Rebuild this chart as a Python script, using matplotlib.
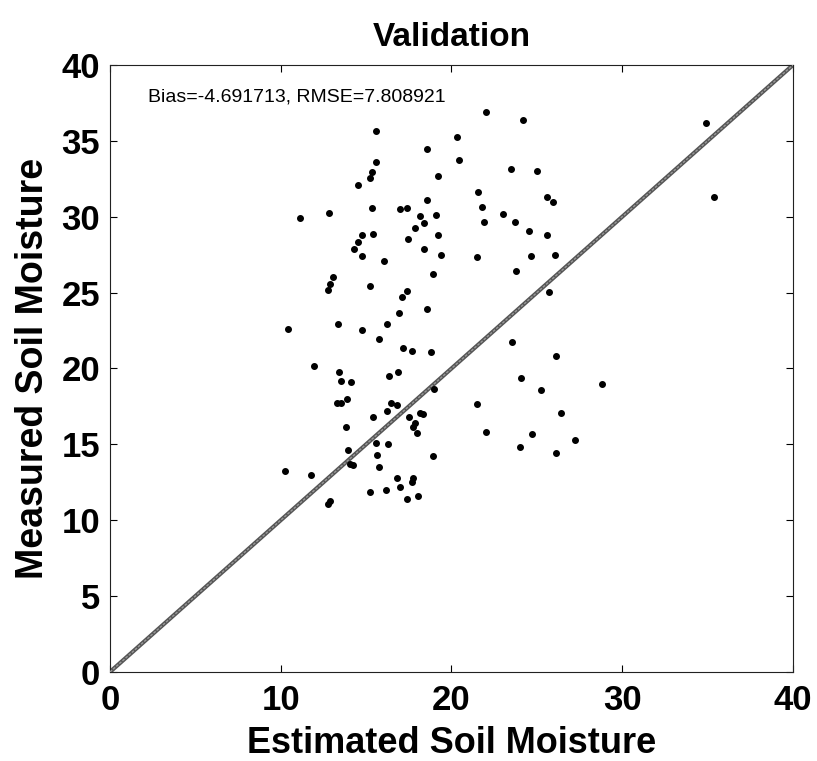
import matplotlib
matplotlib.use("Agg")
import matplotlib.pyplot as plt
import numpy as np

# estimated vs measured soil moisture, validation points
est = [15.56, 15.56, 15.34, 15.22, 14.52, 15.34, 17.0, 17.37, 11.14, 12.82,
       17.86, 17.43, 14.74, 15.38, 14.54, 14.27, 14.75, 16.04, 13.08, 12.88,
       12.75, 15.24, 17.39, 17.1, 16.9, 13.33, 16.2, 10.44, 14.75, 15.73,
       17.19, 17.7, 11.96, 13.39, 13.52, 14.09, 16.32, 16.88, 13.27, 13.52,
       13.86, 16.43, 16.79, 16.24, 15.42, 17.52, 17.88, 17.76, 17.99, 13.8,
       15.56, 16.28, 13.92, 14.05, 14.21, 15.61, 15.73, 10.23, 11.79, 16.8,
       17.72, 17.68, 16.98, 15.24, 16.16, 17.41, 12.88, 12.78, 18.05,
       22.01, 24.18, 20.3, 18.54, 20.42, 23.46, 24.98, 19.2, 21.55, 18.54,
       25.6, 25.92, 21.78, 23.0, 19.07, 18.17, 18.37, 21.92, 23.71, 19.2,
       24.56, 25.62, 18.42, 19.4, 21.5, 24.65, 26.07, 18.93, 23.77, 25.72,
       18.56, 18.79, 23.57, 26.13, 18.97, 24.1, 25.23, 28.79, 21.5, 18.15,
       18.31, 26.43, 22.03, 24.71, 27.22, 24.04, 26.11, 18.89, 34.9, 35.4]
meas = [35.66, 33.58, 32.98, 32.52, 32.08, 30.59, 30.48, 30.59, 29.91, 30.26,
        29.23, 28.5, 28.79, 28.87, 28.33, 27.89, 27.38, 27.1, 26.0, 25.56,
        25.16, 25.45, 25.1, 24.72, 23.63, 22.92, 22.92, 22.58, 22.55, 21.94,
        21.36, 21.15, 20.14, 19.78, 19.17, 19.08, 19.52, 19.76, 17.74, 17.74,
        17.96, 17.7, 17.57, 17.19, 16.78, 16.8, 16.38, 16.16, 15.76, 16.12,
        15.07, 15.0, 14.6, 13.7, 13.66, 14.3, 13.5, 13.22, 13.0, 12.78,
        12.76, 12.5, 12.17, 11.84, 12.01, 11.38, 11.26, 11.05, 11.6,
        36.87, 36.38, 35.26, 34.45, 33.77, 33.16, 33.0, 32.7, 31.6, 31.07,
        31.31, 30.98, 30.61, 30.19, 30.1, 30.02, 29.56, 29.66, 29.66, 28.79,
        29.03, 28.79, 27.89, 27.49, 27.32, 27.4, 27.49, 26.24, 26.42, 25.05,
        23.91, 21.06, 21.72, 20.84, 18.64, 19.34, 18.56, 18.99, 17.68, 17.08,
        16.98, 17.08, 15.79, 15.68, 15.3, 14.8, 14.45, 14.21, 36.2, 31.3]

bias = -4.691713
rmse = 7.808921
lim = [0, 40]

plt.rcParams["font.family"] = ["Liberation Sans", "DejaVu Sans"]

fig = plt.figure(figsize=(8.17, 7.61), dpi=100)
ax = fig.add_axes([0.1346, 0.117, 0.836, 0.7976])

# 1:1 line
ax.plot(lim, lim, color="#555555", lw=3.0, solid_capstyle="butt", zorder=2)
ax.plot(lim, lim, color="#999999", lw=1.0, ls=(0, (2, 1)), zorder=3)
ax.plot(est, meas, "o", color="black", ms=4.0, zorder=4)

ax.set_xlim(lim)
ax.set_ylim(lim)
ax.set_xticks(np.arange(0, 41, 10))
ax.set_yticks(np.arange(0, 41, 5))
ax.tick_params(direction="in", top=True, right=True, length=5, width=0.8,
               labelsize=25)
ax.tick_params(axis="x", pad=9)
ax.tick_params(axis="y", pad=7)
for lbl in ax.get_xticklabels() + ax.get_yticklabels():
    lbl.set_fontweight("bold")
for s in ax.spines.values():
    s.set_linewidth(0.8)
    s.set_color("#222222")

ax.text(2.2, 37.9, f"Bias={bias:.6f}, RMSE={rmse:.6f}", fontsize=14,
        va="center", ha="left")
ax.set_title("Validation", fontsize=24, fontweight="bold", pad=14)
ax.set_xlabel("Estimated Soil Moisture", fontsize=26, fontweight="bold", labelpad=6)
ax.set_ylabel("Measured Soil Moisture", fontsize=27, fontweight="bold", labelpad=8)

fig.savefig("out.png", dpi=100)
